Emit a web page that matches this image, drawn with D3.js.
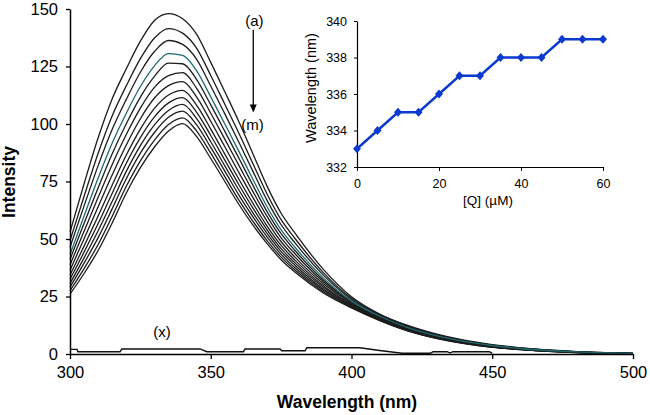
<!DOCTYPE html>
<html>
<head>
<meta charset="utf-8">
<script src="https://cdn.jsdelivr.net/npm/d3@7"></script>
<style>
  body { margin: 0; background: #fff; }
  svg { display: block; font-family: "Liberation Sans", Arial, sans-serif; }
</style>
</head>
<body>
<div id="chart"></div>
<script>
// Sample wavelengths (nm) for the emission spectra
var wl = [300, 305, 310, 315, 320, 325, 330, 335, 340, 345, 350, 355, 360, 365, 370, 375, 380, 390, 400, 410, 420, 430, 440, 450, 460, 470, 480, 490, 500];

// Intensity of each spectrum, (a) highest to (m) lowest
var specA = [53, 74, 94, 111, 124, 136, 145, 148, 145.8, 139, 126.8, 114, 101, 87, 73, 61.2, 52.4, 36.8, 24.9, 17.4, 12.4, 8.7, 6.0, 4.1, 2.7, 1.75, 1.05, 0.58, 0.3];
var specB = [49.3, 68.6, 87.3, 103.6, 116.6, 128.4, 137.4, 141.5, 139.5, 132.9, 121.1, 108.6, 96, 82.7, 69.6, 58.4, 50.1, 35.4, 24.2, 17, 12.1, 8.4, 5.8, 3.9, 2.6, 1.66, 0.99, 0.54, 0.28];
var specC = [46.4, 64.4, 81.9, 97.7, 110.7, 122.5, 131.5, 136.3, 134.6, 128.1, 116.5, 104.4, 92.1, 79.4, 66.8, 56.2, 48.2, 34.3, 23.7, 16.7, 11.8, 8.2, 5.6, 3.8, 2.5, 1.59, 0.94, 0.51, 0.26];
var specD = [43.3, 60, 76.5, 91.7, 104.7, 116.3, 125.3, 130.6, 129.8, 123.1, 111.8, 100, 88.1, 75.9, 64, 54, 46.3, 33.1, 23.1, 16.4, 11.5, 8, 5.5, 3.7, 2.4, 1.52, 0.89, 0.48, 0.25];
var specE = [41.1, 56.8, 72.3, 87.1, 100.1, 111.7, 120.7, 126.5, 126.2, 119.3, 108.3, 96.8, 85.1, 73.3, 61.9, 52.3, 44.9, 32.2, 22.7, 16.1, 11.3, 7.9, 5.3, 3.6, 2.35, 1.46, 0.85, 0.46, 0.23];
var specF = [38.7, 53.4, 68.1, 82.4, 95.4, 106.9, 115.9, 121, 122.3, 115.5, 104.7, 93.4, 82, 70.6, 59.8, 50.5, 43.5, 31.4, 22.3, 15.9, 11.1, 7.7, 5.2, 3.5, 2.3, 1.41, 0.81, 0.43, 0.22];
var specG = [36.4, 50.1, 64, 77.9, 90.9, 102.3, 111.3, 116.7, 118.4, 111.7, 101.2, 90.1, 78.9, 68, 57.7, 48.8, 42, 30.5, 21.9, 15.6, 10.9, 7.5, 5.1, 3.4, 2.2, 1.35, 0.77, 0.41, 0.21];
var specH = [34.3, 46.9, 60, 73.5, 86.5, 97.8, 106.8, 112.6, 114.6, 108.1, 97.8, 86.9, 76, 65.5, 55.6, 47.2, 40.7, 29.7, 21.5, 15.4, 10.7, 7.4, 5, 3.3, 2.15, 1.3, 0.74, 0.39, 0.2];
var specI = [32.5, 44.3, 56.7, 69.9, 82.9, 94.1, 103.1, 109.2, 111.5, 105.1, 95, 84.3, 73.6, 63.4, 54, 45.8, 39.5, 29, 21.2, 15.2, 10.6, 7.3, 4.9, 3.2, 2.1, 1.26, 0.71, 0.37, 0.19];
var specJ = [30.7, 41.8, 53.6, 66.4, 79.4, 90.6, 99.6, 105.9, 108.5, 102.3, 92.3, 81.8, 71.3, 61.4, 52.4, 44.5, 38.5, 28.3, 20.9, 15, 10.4, 7.1, 4.8, 3.1, 2.05, 1.21, 0.68, 0.35, 0.18];
var specK = [29.1, 39.5, 50.6, 63.2, 76.2, 87.3, 96.3, 102.9, 105.6, 99.6, 89.8, 79.5, 69.1, 59.6, 50.9, 43.3, 37.4, 27.7, 20.6, 14.8, 10.3, 7, 4.7, 3, 2, 1.17, 0.65, 0.33, 0.17];
var specL = [27.5, 37.1, 47.6, 59.9, 72.9, 84, 93, 99.8, 102.7, 96.9, 87.3, 77.1, 66.9, 57.7, 49.3, 42.1, 36.4, 27.1, 20.3, 14.7, 10.1, 6.9, 4.6, 3, 1.95, 1.14, 0.62, 0.31, 0.16];
var specM = [26, 35, 45, 57, 70, 81, 90, 97, 100.2, 94.5, 85, 75, 65, 56, 48, 41, 35.5, 26.5, 20, 14.5, 10, 6.8, 4.5, 2.9, 1.9, 1.1, 0.6, 0.3, 0.15];

// Blank spectrum (x)
var blankWl = [300, 302.5, 302.8, 317.8, 318.4, 346.2, 348.6, 361.6, 362.2, 374.6, 375.2, 383.5, 384.1, 403, 410, 418, 428, 429, 434, 435, 436, 449, 450];
var blankI = [2.0, 2.0, 1.0, 1.0, 2.2, 2.2, 1.0, 1.0, 2.2, 2.2, 1.4, 1.4, 2.7, 2.7, 1.5, 0.3, 0.3, 1.0, 1.0, 0.4, 1.0, 1.0, 0.3];

// Inset: emission maximum vs quencher concentration
var qConc = [0, 5, 10, 15, 20, 25, 30, 35, 40, 45, 50, 55, 60];
var peakWl = [333, 334, 335, 335, 336, 337, 337, 338, 338, 338, 339, 339, 339];

// Tick values
var mainXTicks = [300, 350, 400, 450, 500];
var mainYTicks = [0, 25, 50, 75, 100, 125, 150];
var insetXTicks = [0, 20, 40, 60];
var insetYTicks = [332, 334, 336, 338, 340];

var svgWdt = 650;
var svgHgt = 415;

var svg = d3.select("#chart").append("svg")
    .attr("width", svgWdt)
    .attr("height", svgHgt);

// Main scales
var xMain = d3.scaleLinear().domain([300, 500]).range([70, 633]);
var yMain = d3.scaleLinear().domain([0, 150]).range([354, 9]);

// Spectra
var spectra = [specA, specB, specC, specD, specE, specF, specG, specH, specI, specJ, specK, specL, specM];
var specLine = d3.line()
    .x(d => xMain(d[0]))
    .y(d => yMain(d[1]))
    .curve(d3.curveMonotoneX);

var specGrp = svg.append("g");
spectra.forEach((s, i) => {
    if (i === 3) return; // teal one drawn last
    specGrp.append("path")
        .attr("d", specLine(wl.map((w, j) => [w, s[j]])))
        .attr("fill", "none")
        .attr("stroke", "#1c1c1c")
        .attr("stroke-width", 1.3);
});
specGrp.append("path")
    .attr("d", specLine(wl.map((w, j) => [w, specD[j]])))
    .attr("fill", "none")
    .attr("stroke", "#1d6a6e")
    .attr("stroke-width", 1.3);

// Blank
svg.append("path")
    .attr("d", d3.line().x(d => xMain(d[0])).y(d => yMain(d[1]))(blankWl.map((w, j) => [w, blankI[j]])))
    .attr("fill", "none")
    .attr("stroke", "#111")
    .attr("stroke-width", 1.4);

// Main axes
var botRule = d3.axisBottom(xMain).tickValues(mainXTicks).tickSize(5).tickSizeOuter(0).tickPadding(7);
var lftRule = d3.axisLeft(yMain).tickValues(mainYTicks).tickSize(4).tickSizeOuter(0).tickPadding(8);

var xAxis = svg.append("g")
    .attr("transform", `translate(0, ${yMain(0)})`)
    .call(botRule);
var yAxis = svg.append("g")
    .attr("transform", `translate(${xMain(300)}, 0)`)
    .call(lftRule);

[xAxis, yAxis].forEach(a => {
    a.select(".domain").attr("stroke", "#000").attr("stroke-width", 1.5);
    a.selectAll(".tick line").attr("stroke", "#000").attr("stroke-width", 1.3);
    a.selectAll(".tick text")
        .attr("fill", "#000")
        .style("font-family", "'Liberation Sans', Arial, sans-serif")
        .style("font-size", "16.5px");
});

// Axis titles
svg.append("text")
    .attr("x", 347)
    .attr("y", 408)
    .attr("text-anchor", "middle")
    .style("font-size", "17.5px")
    .style("font-weight", "bold")
    .text("Wavelength (nm)");

svg.append("text")
    .attr("transform", "translate(15, 182) rotate(-90)")
    .attr("text-anchor", "middle")
    .style("font-size", "17.5px")
    .style("font-weight", "bold")
    .text("Intensity");

// Annotations
svg.append("text")
    .attr("x", xMain(365.5))
    .attr("y", yMain(142.5))
    .attr("text-anchor", "middle")
    .style("font-size", "15px")
    .text("(a)");
svg.append("text")
    .attr("x", xMain(364.8))
    .attr("y", yMain(97.5))
    .attr("text-anchor", "middle")
    .style("font-size", "15px")
    .text("(m)");
svg.append("text")
    .attr("x", xMain(332.7))
    .attr("y", yMain(7.3))
    .attr("text-anchor", "middle")
    .style("font-size", "15px")
    .text("(x)");

// Arrow from (a) to (m)
var arX = xMain(365.1);
svg.append("line")
    .attr("x1", arX).attr("x2", arX)
    .attr("y1", yMain(141)).attr("y2", yMain(108))
    .attr("stroke", "#000")
    .attr("stroke-width", 1.3);
svg.append("path")
    .attr("d", `M${arX - 3.5},${yMain(108.5)} L${arX + 3.5},${yMain(108.5)} L${arX},${yMain(105)} Z`)
    .attr("fill", "#000");

// Inset
var xIns = d3.scaleLinear().domain([0, 60]).range([357, 603]);
var yIns = d3.scaleLinear().domain([332, 340]).range([167, 21]);

var insBot = d3.axisBottom(xIns).tickValues(insetXTicks).tickSize(4).tickSizeOuter(0).tickPadding(8);
var insLft = d3.axisLeft(yIns).tickValues(insetYTicks).tickSize(3).tickSizeOuter(0).tickPadding(7);

var insX = svg.append("g")
    .attr("transform", `translate(0, ${yIns(332)})`)
    .call(insBot);
var insY = svg.append("g")
    .attr("transform", `translate(${xIns(0)}, 0)`)
    .call(insLft);

[insX, insY].forEach(a => {
    a.select(".domain").attr("stroke", "#000").attr("stroke-width", 1.2);
    a.selectAll(".tick line").attr("stroke", "#000").attr("stroke-width", 1);
    a.selectAll(".tick text")
        .attr("fill", "#000")
        .style("font-family", "'Liberation Sans', Arial, sans-serif")
        .style("font-size", "12.5px");
});

var insLine = d3.line()
    .x((d, i) => xIns(qConc[i]))
    .y(d => yIns(d));

svg.append("path")
    .attr("d", insLine(peakWl))
    .attr("fill", "none")
    .attr("stroke", "#0a3ad0")
    .attr("stroke-width", 2.4);

svg.selectAll(".dmd").data(peakWl)
    .enter()
    .append("path")
        .attr("class", "dmd")
        .attr("transform", (d, i) => `translate(${xIns(qConc[i])}, ${yIns(d)})`)
        .attr("d", "M0,-4.5 L4,0 L0,4.5 L-4,0 Z")
        .attr("fill", "#0a3ad0");

svg.append("text")
    .attr("x", 488)
    .attr("y", 205)
    .attr("text-anchor", "middle")
    .style("font-size", "13.5px")
    .text("[Q] (\u00B5M)");

svg.append("text")
    .attr("transform", "translate(316, 88) rotate(-90)")
    .attr("text-anchor", "middle")
    .style("font-size", "14.5px")
    .text("Wavelength (nm)");
</script>
</body>
</html>
